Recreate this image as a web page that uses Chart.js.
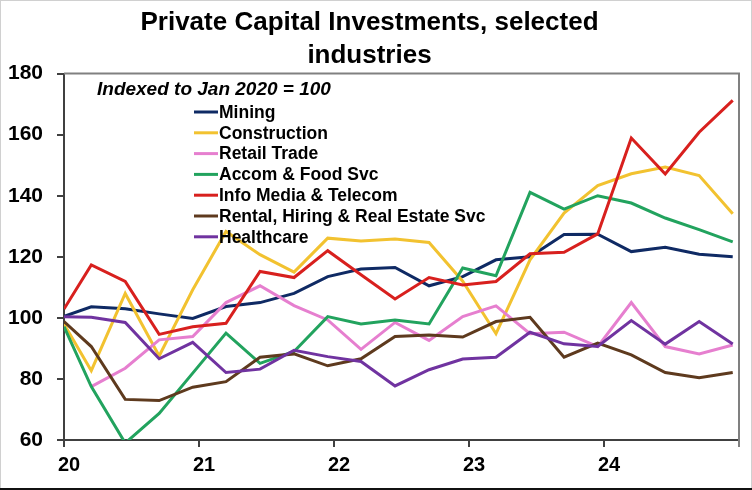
<!DOCTYPE html>
<html>
<head>
<meta charset="utf-8">
<script src="https://cdn.jsdelivr.net/npm/chart.js@4.4.1/dist/chart.umd.min.js"></script>
<style>
	html, body { margin: 0; padding: 0; background: #fff; }
	#wrap { width: 752px; height: 490px; position: relative; }
</style>
</head>
<body>
<div id="wrap"><canvas id="chart" width="752" height="490"></canvas></div>
<script>
// Datas dos pontos (índice base em jan/2020, depois trimestral)
const datas = [
	"2020-01-01", "2020-03-15", "2020-06-15", "2020-09-15", "2020-12-15",
	"2021-03-15", "2021-06-15", "2021-09-15", "2021-12-15",
	"2022-03-15", "2022-06-15", "2022-09-15", "2022-12-15",
	"2023-03-15", "2023-06-15", "2023-09-15", "2023-12-15",
	"2024-03-15", "2024-06-15", "2024-09-15", "2024-12-15",
];

// Rótulos do eixo x (anos)
const anosLabels = ["20", "21", "22", "23", "24"];

// Séries
const mining = [100.5, 103.6, 103.0, 101.3, 99.8, 103.7, 105.0, 108.0, 113.5, 116.0, 116.5, 110.5, 113.5, 119.0, 120.0, 127.3, 127.4, 121.7, 123.1, 120.8, 120.0];
const construction = [98.0, 82.7, 108.0, 87.5, 109.2, 128.3, 120.7, 115.0, 126.1, 125.2, 125.8, 124.7, 112.0, 94.8, 119.0, 134.3, 143.3, 147.2, 149.4, 146.6, 134.1];
const retail = [null, 77.5, 83.5, 92.8, 93.9, 105.0, 110.5, 104.0, 99.3, 89.7, 98.5, 92.6, 100.4, 103.9, 94.8, 95.3, 90.6, 105.0, 90.6, 88.2, 91.1];
const accomFood = [97.1, 77.5, 59.0, 68.7, 81.9, 95.0, 85.1, 89.0, 100.4, 98.0, 99.3, 98.0, 116.3, 113.8, 141.1, 135.6, 140.0, 137.6, 132.7, 128.9, 124.9];
const infoMedia = [102.9, 117.3, 111.9, 94.6, 97.1, 98.2, 115.2, 113.2, 122.0, 114.1, 106.2, 113.2, 110.8, 111.9, 121.0, 121.5, 127.5, 158.9, 147.1, 160.8, 171.2];
const rental = [98.8, 90.6, 73.3, 72.9, 77.3, 79.1, 87.1, 88.2, 84.3, 86.6, 93.9, 94.4, 93.7, 98.8, 100.2, 87.1, 91.7, 87.9, 82.1, 80.4, 82.1];
const healthcare = [100.4, 100.2, 98.5, 86.6, 92.0, 82.1, 83.2, 89.4, 87.3, 85.7, 77.7, 83.0, 86.5, 87.1, 95.3, 91.5, 90.6, 99.1, 91.4, 98.8, 91.4];

const series = [
	{ label: "Mining", values: mining, color: "#0f2a64" },
	{ label: "Construction", values: construction, color: "#f2c230" },
	{ label: "Retail Trade", values: retail, color: "#e67fcf" },
	{ label: "Accom & Food Svc", values: accomFood, color: "#22a35e" },
	{ label: "Info Media & Telecom", values: infoMedia, color: "#d8201e" },
	{ label: "Rental, Hiring & Real Estate Svc", values: rental, color: "#5e3a1e" },
	{ label: "Healthcare", values: healthcare, color: "#7033a0" },
];

const subtitulo = "Indexed to Jan 2020 = 100";

// Converte data ISO em ano decimal
const paraAno = (s) => {
	const d = new Date(s + "T00:00:00Z");
	const y = d.getUTCFullYear();
	const ini = Date.UTC(y, 0, 1);
	const fim = Date.UTC(y + 1, 0, 1);
	return y + (d.getTime() - ini) / (fim - ini);
};

const datasets = series.map((s, i) => ({
	label: s.label,
	data: s.values.map((v, j) => ({ x: paraAno(datas[j]), y: v })),
	borderColor: s.color,
	backgroundColor: s.color,
	borderWidth: 3,
	pointRadius: 0,
	tension: 0,
	fill: false,
	order: series.length - i,
}));

// Legenda + subtítulo dentro da área do gráfico
const legendaInterna = {
	id: "legendaInterna",
	afterDraw(chart) {
		const ctx = chart.ctx;
		ctx.save();
		ctx.fillStyle = "#000";
		ctx.textBaseline = "middle";
		ctx.textAlign = "left";
		ctx.font = "italic bold 19px Arial, 'Liberation Sans', sans-serif";
		ctx.fillText(subtitulo, 97, 90);

		ctx.font = "bold 17.5px Arial, 'Liberation Sans', sans-serif";
		series.forEach((s, i) => {
			const y = 112 + i * 20.8;
			ctx.strokeStyle = s.color;
			ctx.lineWidth = 3;
			ctx.beginPath();
			ctx.moveTo(194, y);
			ctx.lineTo(218, y);
			ctx.stroke();
			ctx.fillText(s.label, 219, y + 1);
		});
		ctx.restore();
	},
};

// Borda superior/direita da área e moldura da imagem
const bordas = {
	id: "bordas",
	afterDraw(chart) {
		const { ctx, chartArea: a, width, height } = chart;
		ctx.save();
		ctx.strokeStyle = "#808080";
		ctx.lineWidth = 2;
		ctx.beginPath();
		ctx.moveTo(a.left, a.top);
		ctx.lineTo(a.right, a.top);
		ctx.lineTo(a.right, a.bottom + 7);
		ctx.stroke();

		ctx.strokeStyle = "#d0d0d0";
		ctx.lineWidth = 1;
		ctx.strokeRect(0.5, 0.5, width - 1, height - 1);
		ctx.fillStyle = "#111";
		ctx.fillRect(0, height - 2, width, 2);
		ctx.restore();
	},
};

new Chart(document.getElementById("chart"), {
	type: "line",
	data: { datasets },
	plugins: [legendaInterna, bordas],
	options: {
		responsive: false,
		animation: false,
		devicePixelRatio: 1,
		layout: { padding: { left: 0, right: 13, top: 0, bottom: 0 } },
		plugins: {
			legend: { display: false },
			tooltip: { enabled: false },
			title: {
				display: true,
				text: ["Private Capital Investments, selected", "industries"],
				color: "#000",
				font: { family: "Arial, 'Liberation Sans', sans-serif", size: 26, weight: "bold", lineHeight: 1.28 },
				padding: { top: 6, bottom: 1 },
			},
		},
		scales: {
			x: {
				type: "linear",
				min: 2020,
				max: 2025,
				afterFit(scale) {
					scale.height = 50;
				},
				border: { color: "#404040", width: 2 },
				grid: { drawOnChartArea: false, drawTicks: true, tickLength: 7, color: "#404040", lineWidth: 2 },
				ticks: {
					stepSize: 1,
					autoSkip: false,
					maxRotation: 0,
					padding: 6,
					labelOffset: 5,
					color: "#000",
					font: { family: "Arial, 'Liberation Sans', sans-serif", size: 20, weight: "bold" },
					callback: (v) => anosLabels[v - 2020] ?? "",
				},
			},
			y: {
				min: 60,
				max: 180,
				afterFit(scale) {
					scale.width = 64;
				},
				border: { color: "#404040", width: 2 },
				grid: { drawOnChartArea: false, drawTicks: true, tickLength: 7, color: "#404040", lineWidth: 2 },
				ticks: {
					stepSize: 20,
					padding: 14,
					color: "#000",
					font: { family: "Arial, 'Liberation Sans', sans-serif", size: 21, weight: "bold" },
				},
			},
		},
	},
});
</script>
</body>
</html>
